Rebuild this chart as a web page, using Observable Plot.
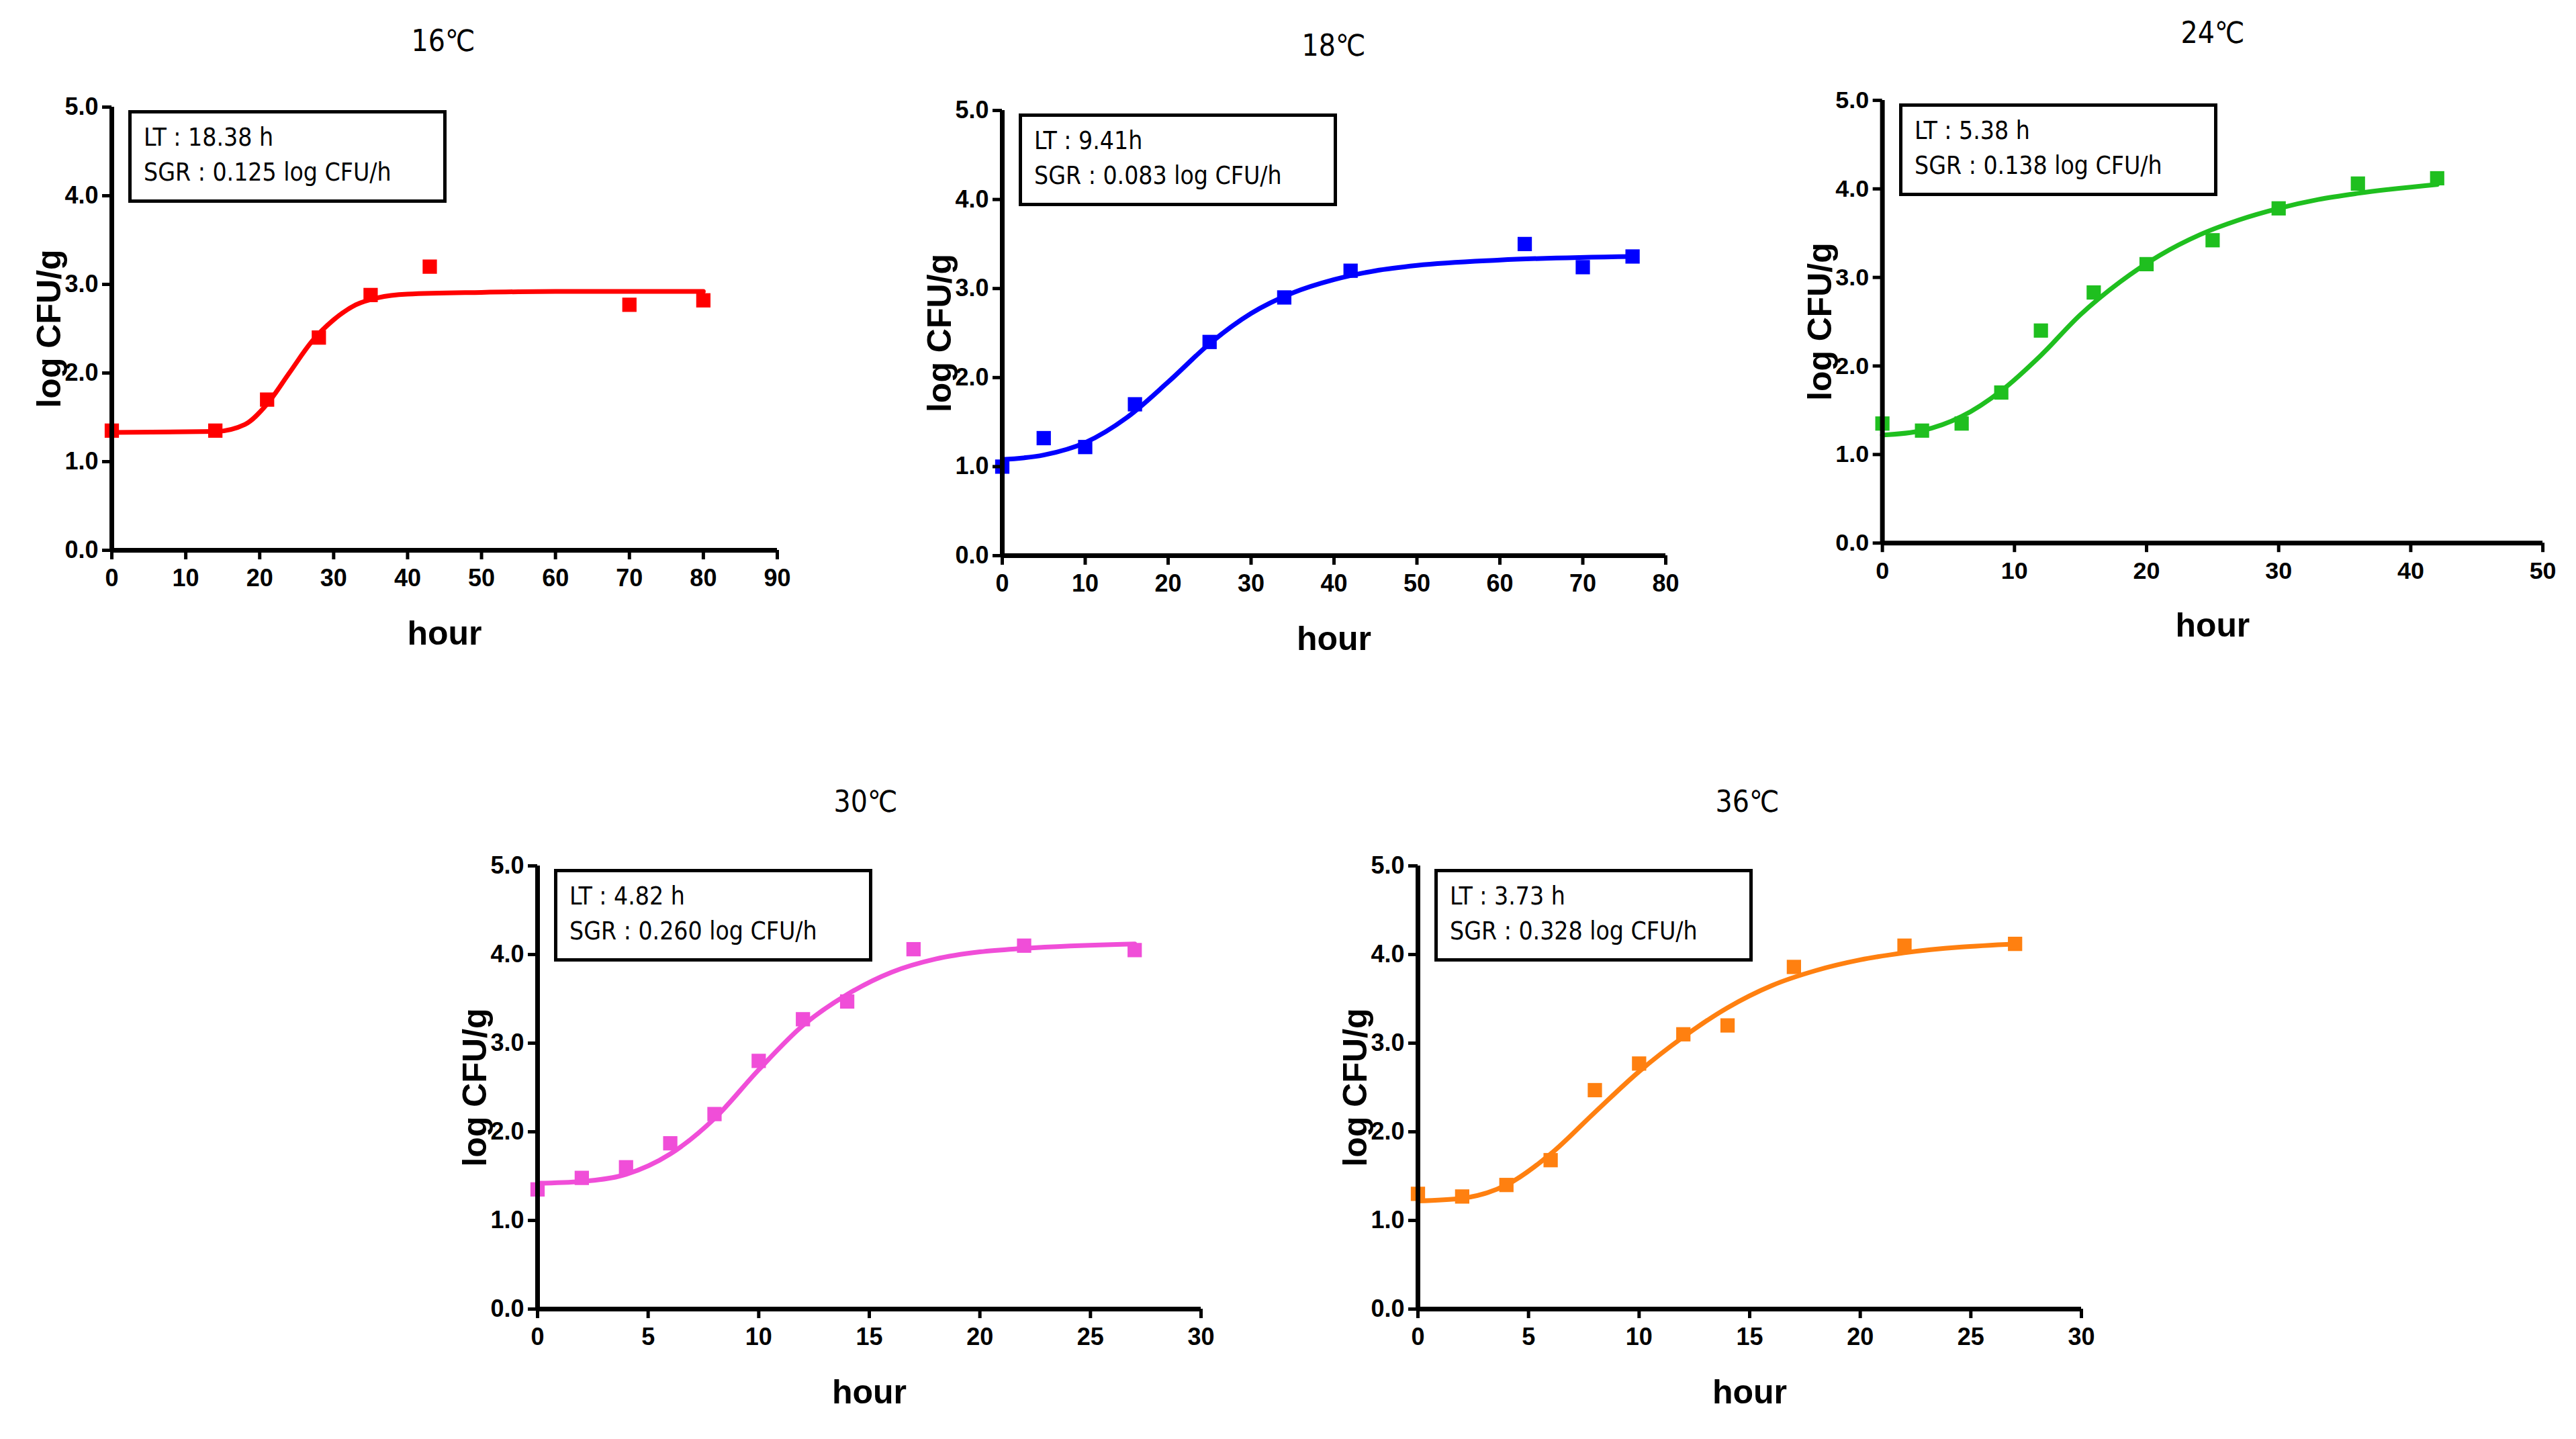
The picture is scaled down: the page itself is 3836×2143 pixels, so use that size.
<!DOCTYPE html>
<html><head><meta charset="utf-8">
<script src="https://cdn.jsdelivr.net/npm/d3@7"></script>
<script src="https://cdn.jsdelivr.net/npm/@observablehq/plot@0.6"></script>
<style>
body{margin:0;background:#fff;}
#page{position:relative;width:3836px;height:2143px;overflow:hidden;}
.panel{position:absolute;}
.title{position:absolute;font-family:"DejaVu Sans Condensed","DejaVu Sans";font-size:44px;transform:translateX(-50%);white-space:nowrap;}
.box{position:absolute;border:5px solid #000;font-family:"DejaVu Sans Condensed","DejaVu Sans";font-size:37px;line-height:52px;padding:10px 18px;box-sizing:border-box;width:474px;height:138px;white-space:nowrap;}
</style></head><body><div id="page"></div>
<script>
const titles = ["16℃","18℃","24℃","30℃","36℃"];
const ltLabels = ["LT : 18.38 h","LT : 9.41h","LT : 5.38 h","LT : 4.82 h","LT : 3.73 h"];
const sgrLabels = ["SGR : 0.125 log CFU/h","SGR : 0.083 log CFU/h","SGR : 0.138 log CFU/h","SGR : 0.260 log CFU/h","SGR : 0.328 log CFU/h"];
const colors = ["#ff0000","#0000ff","#1fbf1f","#f04ed8","#ff8010"];
const xMax = [90,80,50,30,30];
const xStep = [10,10,10,5,5];
// observed points
const obsX1=[0,14,21,28,35,43,70,80], obsY1=[1.35,1.35,1.7,2.4,2.88,3.2,2.77,2.82];
const obsX2=[0,5,10,16,25,34,42,63,70,76], obsY2=[1.0,1.32,1.22,1.7,2.4,2.9,3.2,3.5,3.24,3.36];
const obsX3=[0,3,6,9,12,16,20,25,30,36,42], obsY3=[1.35,1.27,1.35,1.7,2.4,2.83,3.15,3.42,3.78,4.06,4.12];
const obsX4=[0,2,4,6,8,10,12,14,17,22,27], obsY4=[1.35,1.48,1.6,1.87,2.2,2.8,3.27,3.47,4.06,4.1,4.05];
const obsX5=[0,2,4,6,8,10,12,14,17,22,27], obsY5=[1.3,1.27,1.4,1.68,2.47,2.77,3.1,3.2,3.86,4.1,4.12];
// fitted curve
const fitX1=[0,14,18,21,24,27,30,33,36,40,50,60,80], fitY1=[1.33,1.34,1.42,1.65,2.0,2.35,2.6,2.77,2.85,2.89,2.91,2.92,2.92];
const fitX2=[0,5,10,15,20,25,30,35,40,45,50,60,76], fitY2=[1.08,1.13,1.27,1.55,1.95,2.38,2.72,2.95,3.1,3.2,3.26,3.32,3.36];
const fitX3=[0,3,6,9,12,15,18,21,24,27,30,33,36,42], fitY3=[1.22,1.27,1.43,1.72,2.12,2.58,2.95,3.25,3.48,3.65,3.78,3.88,3.95,4.05];
const fitX4=[0,2,4,6,8,10,12,14,16,18,20,22,27], fitY4=[1.42,1.44,1.52,1.75,2.15,2.7,3.2,3.55,3.8,3.95,4.03,4.07,4.12];
const fitX5=[0,2,4,6,8,10,12,14,16,18,20,22,27], fitY5=[1.22,1.25,1.4,1.75,2.22,2.68,3.07,3.4,3.65,3.82,3.94,4.02,4.12];
const obs=[[obsX1,obsY1],[obsX2,obsY2],[obsX3,obsY3],[obsX4,obsY4],[obsX5,obsY5]];
const fit=[[fitX1,fitY1],[fitX2,fitY2],[fitX3,fitY3],[fitX4,fitY4],[fitX5,fitY5]];

// layout: axis origin (left, top of y=5), plot size
const layout=[
 {x0:166,yTop:159,w:991,h:660,tx:660,ty:35},
 {x0:1492,yTop:164,w:988,h:663,tx:1986,ty:42},
 {x0:2803,yTop:149,w:986,h:661,tx:3295,ty:23},
 {x0:800,yTop:1289,w:988,h:660,tx:1289,ty:1168},
 {x0:2111,yTop:1289,w:988,h:660,tx:2602,ty:1168}
];
const ML=150,MT=30,MR=50,MB=180;
const page=document.getElementById("page");
layout.forEach((L,i)=>{
  const pts=obs[i][0].map((x,j)=>({x,y:obs[i][1][j]}));
  const crv=fit[i][0].map((x,j)=>({x,y:fit[i][1][j]}));
  const ticks=d3.range(0,xMax[i]+0.001,xStep[i]);
  const svg=Plot.plot({
    width:L.w+ML+MR, height:L.h+MT+MB,
    marginLeft:ML, marginRight:MR, marginTop:MT, marginBottom:MB,
    style:{fontFamily:"Liberation Sans, Arial, sans-serif",background:"#fff",overflow:"visible"},
    x:{domain:[0,xMax[i]]},
    y:{domain:[0,5]},
    marks:[
      Plot.line(crv,{x:"x",y:"y",stroke:colors[i],strokeWidth:7,curve:"monotone-x"}),
      Plot.dot(pts,{x:"x",y:"y",symbol:"square",r:12,fill:colors[i],stroke:"none"}),
      Plot.axisX({ticks,tickSize:14,strokeWidth:5,tickPadding:14,fontSize:36,fontWeight:"bold",
        label:"hour",labelAnchor:"center",labelArrow:"none",labelOffset:140}),
      Plot.axisY({ticks:[0,1,2,3,4,5],tickSize:14,strokeWidth:5,tickPadding:6,fontSize:36,fontWeight:"bold",
        label:"log CFU/g",labelAnchor:"center",labelArrow:"none",labelOffset:112}),
      Plot.ruleY([0],{strokeWidth:7}),
      Plot.ruleX([0],{strokeWidth:7})
    ]
  });
  svg.querySelectorAll('g[aria-label="x-axis label"] text, g[aria-label="y-axis label"] text').forEach(t=>{t.setAttribute("font-size","50");t.setAttribute("font-weight","bold");});
  const d=document.createElement("div");d.className="panel";
  d.style.left=(L.x0-ML)+"px";d.style.top=(L.yTop-MT)+"px";
  d.appendChild(svg);page.appendChild(d);
  const t=document.createElement("div");t.className="title";t.textContent=titles[i];
  t.style.left=L.tx+"px";t.style.top=L.ty+"px";page.appendChild(t);
  const b=document.createElement("div");b.className="box";
  b.style.left=(L.x0+25)+"px";b.style.top=(L.yTop+5)+"px";
  b.innerHTML=ltLabels[i]+"<br>"+sgrLabels[i];page.appendChild(b);
});
</script></body></html>
